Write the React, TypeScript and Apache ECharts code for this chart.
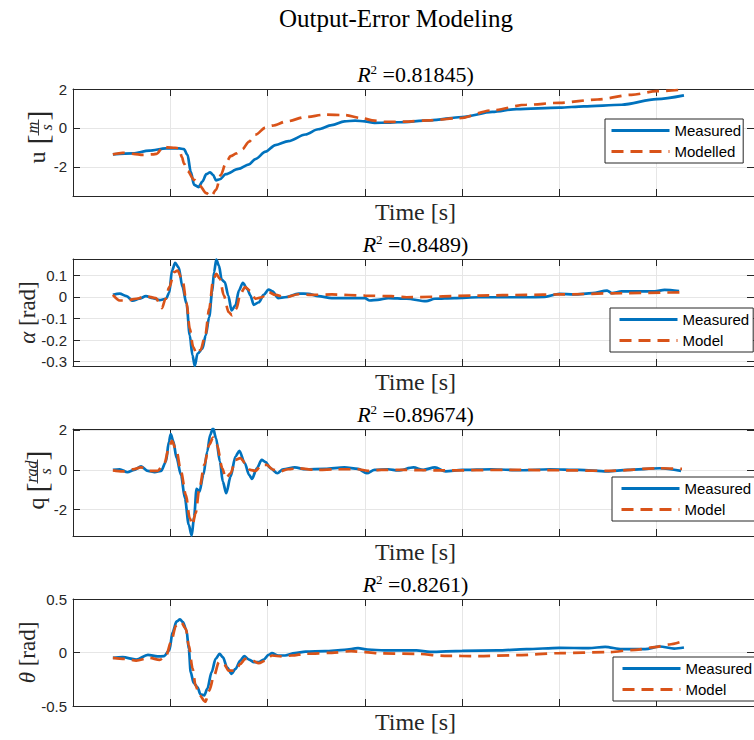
import React, { useEffect, useRef } from "react";
import * as echarts from "echarts";

// ---------- data (time in axis units 0..7, values per panel) ----------
const uMeasured: [number, number][] = [
  [0.41, -1.36], [0.615, -1.31], [0.785, -1.17], [0.956, -1.05], [1.09, -1.05], [1.14, -1.09],
  [1.177, -1.39], [1.21, -2.24], [1.245, -2.93], [1.29, -3.04], [1.33, -2.76], [1.37, -2.38],
  [1.41, -2.28], [1.44, -2.41], [1.47, -2.7], [1.51, -2.64], [1.57, -2.38], [1.7, -2.11],
  [1.81, -1.87], [1.875, -1.6], [1.98, -1.22], [2.08, -0.88], [2.215, -0.68], [2.39, -0.34],
  [2.52, -0.07], [2.66, 0.14], [2.79, 0.34], [2.9, 0.37], [3.0, 0.34], [3.1, 0.26], [3.24, 0.27],
  [3.34, 0.29], [3.67, 0.39], [4.0, 0.56], [4.31, 0.82], [4.56, 0.97], [5.0, 1.04], [5.25, 1.11],
  [5.64, 1.19], [6.0, 1.48], [6.28, 1.67],
];
const uModelled: [number, number][] = [
  [0.41, -1.36], [0.51, -1.28], [0.62, -1.33], [0.72, -1.39], [0.82, -1.36], [0.86, -1.33],
  [0.93, -0.95], [0.97, -1.0], [1.05, -1.02], [1.09, -1.05], [1.12, -1.5], [1.14, -1.82],
  [1.177, -2.21], [1.245, -2.67], [1.3, -2.95], [1.37, -3.35], [1.42, -3.52], [1.47, -3.18],
  [1.52, -2.41], [1.57, -1.82], [1.62, -1.45], [1.68, -1.31], [1.74, -1.1], [1.81, -0.7],
  [1.875, -0.35], [1.98, 0.02], [2.05, 0.12], [2.2, 0.34], [2.39, 0.56], [2.59, 0.68],
  [2.79, 0.66], [2.96, 0.51], [3.1, 0.37], [3.2, 0.31], [3.4, 0.32], [3.67, 0.39], [3.97, 0.5],
  [4.3, 0.9], [4.66, 1.19], [5.0, 1.29], [5.39, 1.46], [5.74, 1.7], [6.0, 1.89], [6.28, 1.97],
];
const alphaMeasured: [number, number][] = [
  [0.41, 0.009], [0.48, 0.015], [0.55, 0.003], [0.615, -0.018], [0.68, -0.009], [0.75, 0.003],
  [0.82, -0.006], [0.89, -0.015], [0.956, -0.009], [0.99, 0.02], [1.017, 0.121], [1.05, 0.157],
  [1.085, 0.137], [1.126, 0.045], [1.167, -0.032], [1.2, -0.178], [1.228, -0.27], [1.252, -0.32],
  [1.28, -0.263], [1.33, -0.24], [1.364, -0.178], [1.4, -0.094], [1.43, 0.022], [1.45, 0.114],
  [1.473, 0.172], [1.5, 0.144], [1.528, 0.08], [1.56, 0.068], [1.596, 0.006], [1.63, -0.063],
  [1.67, -0.04], [1.705, 0.029], [1.746, 0.065], [1.79, 0.037], [1.824, 0.006], [1.858, -0.037],
  [1.91, -0.025], [1.96, 0.009], [2.01, 0.034], [2.05, 0.025], [2.11, -0.006], [2.18, -0.002],
  [2.32, 0.015], [2.42, 0.014], [2.52, 0.003], [2.66, -0.006], [2.86, -0.006], [3.0, -0.006],
  [3.05, -0.017], [3.13, -0.014], [3.24, -0.006], [3.43, -0.009], [3.63, -0.02], [3.72, -0.009],
  [3.92, -0.006], [4.17, -0.002], [4.66, -0.002], [4.85, 0.0], [5.0, 0.014], [5.15, 0.011],
  [5.34, 0.017], [5.49, 0.029], [5.54, 0.017], [5.64, 0.025], [5.98, 0.025], [6.08, 0.032],
  [6.23, 0.026],
];
const alphaModel: [number, number][] = [
  [0.41, 0.009], [0.48, -0.017], [0.55, -0.017], [0.65, -0.009], [0.75, 0.003], [0.85, -0.006],
  [0.915, -0.052], [0.95, -0.01], [0.99, 0.045], [1.04, 0.114], [1.075, 0.121], [1.126, 0.075],
  [1.167, -0.025], [1.2, -0.147], [1.235, -0.232], [1.27, -0.263], [1.31, -0.247], [1.36, -0.178],
  [1.4, -0.055], [1.44, 0.075], [1.473, 0.106], [1.51, 0.083], [1.55, 0.006], [1.6, -0.071],
  [1.636, -0.086], [1.68, -0.055], [1.72, 0.014], [1.77, 0.045], [1.82, 0.029], [1.875, -0.009],
  [1.94, -0.002], [2.01, 0.022], [2.08, 0.009], [2.18, -0.002], [2.32, 0.012], [2.45, 0.009],
  [2.66, 0.011], [3.0, 0.006], [3.27, 0.003], [3.43, -0.002], [4.17, 0.006], [4.66, 0.009],
  [5.0, 0.011], [5.64, 0.017], [6.13, 0.02], [6.26, 0.021],
];
const qMeasured: [number, number][] = [
  [0.41, 0], [0.48, 0.03], [0.56, -0.12], [0.63, 0], [0.7, 0.17], [0.77, -0.05], [0.84, -0.12],
  [0.905, -0.05], [0.956, 0.42], [0.985, 1.4], [1.005, 1.8], [1.03, 1.45], [1.065, 0.59],
  [1.11, -0.25], [1.15, -1.42], [1.19, -2.76], [1.22, -3.3], [1.245, -2.35], [1.27, -0.95],
  [1.3, -1.09], [1.34, -0.25], [1.38, 0.92], [1.41, 1.76], [1.44, 2.09], [1.47, 1.59],
  [1.51, 0.42], [1.54, -0.59], [1.575, -1.17], [1.62, -0.34], [1.67, 0.67], [1.71, 0.95],
  [1.765, 0.34], [1.81, -0.25], [1.84, -0.45], [1.89, 0.08], [1.94, 0.5], [1.98, 0.39],
  [2.03, 0.08], [2.1, -0.17], [2.16, 0.03], [2.28, 0.12], [2.39, 0.03], [2.59, 0.05],
  [2.79, 0.12], [2.93, 0.05], [3.02, -0.17], [3.1, 0], [3.24, 0.03], [3.34, -0.03], [3.5, 0.12],
  [3.6, 0], [3.72, 0.12], [3.83, -0.08], [4.0, 0], [4.3, 0.03], [4.6, -0.02], [4.9, 0.03],
  [5.2, 0], [5.49, -0.08], [5.7, 0], [6.03, 0.08], [6.25, -0.05],
];
const qModel: [number, number][] = [
  [0.41, -0.03], [0.51, -0.08], [0.615, 0.03], [0.7, 0.12], [0.785, -0.05], [0.87, -0.05],
  [0.94, 0.33], [0.985, 1.1], [1.017, 1.46], [1.065, 0.92], [1.11, -0.08], [1.16, -1.26],
  [1.2, -2.43], [1.228, -2.76], [1.26, -2.18], [1.3, -0.92], [1.35, 0.25], [1.4, 1.26],
  [1.44, 1.62], [1.48, 1.26], [1.535, 0.08], [1.57, -0.42], [1.62, -0.17], [1.67, 0.5],
  [1.72, 0.59], [1.77, 0.34], [1.82, 0], [1.875, -0.05], [1.94, 0.25], [1.99, 0.25], [2.06, 0],
  [2.13, -0.08], [2.21, 0.03], [2.32, 0.08], [2.49, 0], [2.73, 0.03], [2.93, 0.03], [3.03, -0.05],
  [3.17, 0], [3.34, 0], [3.8, -0.03], [4.5, 0.0], [5.0, -0.02], [5.5, -0.05], [6.03, 0.08],
  [6.26, 0.05],
];
const thetaMeasured: [number, number][] = [
  [0.41, -0.05], [0.51, -0.044], [0.65, -0.066], [0.77, -0.022], [0.87, -0.037], [0.935, -0.034],
  [0.99, 0.019], [1.024, 0.19], [1.065, 0.29], [1.1, 0.31], [1.13, 0.284], [1.167, 0.206],
  [1.19, 0.034], [1.21, -0.184], [1.24, -0.284], [1.28, -0.325], [1.31, -0.39], [1.35, -0.4],
  [1.38, -0.34], [1.425, -0.184], [1.466, -0.06], [1.507, -0.012], [1.54, -0.044], [1.585, -0.14],
  [1.63, -0.2], [1.67, -0.153], [1.72, -0.075], [1.76, -0.034], [1.81, -0.066], [1.86, -0.09],
  [1.91, -0.09], [1.96, -0.066], [2.01, -0.022], [2.045, -0.006], [2.11, -0.028], [2.18, -0.028],
  [2.28, -0.006], [2.39, 0.009], [2.59, 0.0125], [2.79, 0.025], [2.93, 0.04], [3.03, 0.028],
  [3.2, 0.019], [3.34, 0.019], [3.53, 0.019], [3.67, 0.006], [4.0, 0.016], [4.36, 0.019],
  [4.66, 0.031], [5.0, 0.044], [5.3, 0.04], [5.47, 0.053], [5.64, 0.031], [5.88, 0.031],
  [6.03, 0.056], [6.18, 0.037], [6.28, 0.047],
];
const thetaModel: [number, number][] = [
  [0.41, -0.05], [0.53, -0.06], [0.65, -0.075], [0.785, -0.05], [0.89, -0.069], [0.956, -0.034],
  [1.007, 0.097], [1.058, 0.25], [1.11, 0.284], [1.16, 0.222], [1.19, 0.066], [1.23, -0.153],
  [1.26, -0.31], [1.3, -0.4], [1.36, -0.46], [1.4, -0.356], [1.45, -0.216], [1.5, -0.09],
  [1.55, -0.106], [1.6, -0.17], [1.67, -0.17], [1.72, -0.106], [1.77, -0.06], [1.84, -0.075],
  [1.91, -0.1], [1.98, -0.075], [2.045, -0.028], [2.15, -0.037], [2.25, -0.028], [2.39, -0.012],
  [2.66, -0.003], [2.86, 0.0125], [3.0, 0.003], [3.18, -0.009], [3.53, -0.0125], [3.82, -0.031],
  [4.17, -0.034], [4.56, -0.025], [5.0, -0.006], [5.49, 0.003], [5.78, 0.025], [5.98, 0.05],
  [6.13, 0.075], [6.26, 0.103],
];

const mainTitle = "Output-Error Modeling";
const r2Values = ["0.81845", "0.8489", "0.89674", "0.8261"];
const measuredName = "Measured";
const modelNames = ["Modelled", "Model", "Model", "Model"];
const xLabel = "Time [s]";
const yMins = [-3.5, -0.32, -3.32, -0.5];
const yMaxs = [2, 0.175, 2.05, 0.5];
const ySplits = [3, 5, 3, 2];
const xMin = 0;
const xMax = 7;
const xStep = 1;

const measuredData = [uMeasured, alphaMeasured, qMeasured, thetaMeasured];
const modelData = [uModelled, alphaModel, qModel, thetaModel];

// ---------- layout / style ----------
const SERIF = '"Liberation Serif", "DejaVu Serif", serif';
const SANS = '"Liberation Sans", Arial, Helvetica, sans-serif';
const BLUE = "#0072BD";
const ORANGE = "#D95319";
const AXIS = "#262626";
const GRIDC = "#e6e6e6";
const LEFT = 73;
const WIDTH = 685;
const TOPS = [89, 259, 429, 599];
const HEIGHT = 107;
const LEG_POS = [
  [605, 119],
  [610, 308],
  [612, 477],
  [613, 657],
];
const PLOT_CX = LEFT + WIDTH / 2;

function buildOption() {
  const grid: any[] = [];
  const xAxis: any[] = [];
  const yAxis: any[] = [];
  const series: any[] = [];
  const legend: any[] = [];
  const graphic: any[] = [];

  for (let i = 0; i < 4; i++) {
    grid.push({ left: LEFT, top: TOPS[i], width: WIDTH, height: HEIGHT, show: false });
    const commonX = {
      type: "value",
      gridIndex: i,
      min: xMin,
      max: xMax,
      interval: xStep,
      axisLine: { show: true, onZero: false, lineStyle: { color: AXIS, width: 1 } },
      axisTick: { show: true, inside: true, length: 7, lineStyle: { color: AXIS } },
      axisLabel: { show: false },
    };
    xAxis.push({ ...commonX, position: "bottom", splitLine: { show: true, lineStyle: { color: GRIDC, width: 1 } } });
    xAxis.push({ ...commonX, position: "top", splitLine: { show: false } });
    const commonY = {
      type: "value",
      gridIndex: i,
      min: yMins[i],
      max: yMaxs[i],
      splitNumber: ySplits[i],
      axisLine: { show: true, onZero: false, lineStyle: { color: AXIS, width: 1 } },
      axisTick: { show: true, inside: true, length: 7, lineStyle: { color: AXIS } },
    };
    const hideExtMin = i !== 3;
    const hideExtMax = i === 1 || i === 2;
    yAxis.push({
      ...commonY,
      position: "left",
      splitLine: { show: true, lineStyle: { color: GRIDC, width: 1 } },
      axisLabel: {
        show: true,
        color: AXIS,
        fontSize: 15,
        fontFamily: SANS,
        margin: 6,
        showMinLabel: !hideExtMin,
        showMaxLabel: !hideExtMax,
        formatter: (v: number) => String(Math.round(v * 1000) / 1000),
      },
    });
    yAxis.push({ ...commonY, position: "right", splitLine: { show: false }, axisLabel: { show: false } });

    series.push({
      name: measuredName,
      type: "line",
      xAxisIndex: 2 * i,
      yAxisIndex: 2 * i,
      data: measuredData[i],
      showSymbol: false,
      symbol: "none",
      smooth: 0.3,
      smoothMonotone: "x",
      lineStyle: { color: BLUE, width: 2.7 },
      itemStyle: { color: BLUE },
      z: 3,
    });
    series.push({
      name: modelNames[i],
      type: "line",
      xAxisIndex: 2 * i,
      yAxisIndex: 2 * i,
      data: modelData[i],
      showSymbol: false,
      symbol: "none",
      smooth: 0.3,
      smoothMonotone: "x",
      lineStyle: { color: ORANGE, width: 2.7, type: [12, 7] },
      itemStyle: { color: ORANGE },
      z: 4,
    });

    legend.push({
      show: true,
      orient: "vertical",
      left: LEG_POS[i][0],
      top: LEG_POS[i][1],
      data: [measuredName, modelNames[i]],
      selectedMode: false,
      itemWidth: 58,
      itemHeight: 16,
      itemGap: 6,
      padding: i === 0 ? [4, 2, 4, 5] : [4, 4, 4, 8],
      borderColor: AXIS,
      borderWidth: 1,
      borderRadius: 0,
      backgroundColor: "#fff",
      itemStyle: { opacity: 0 },
      lineStyle: { width: 3 },
      textStyle: { fontSize: 15, fontFamily: SANS, color: "#000" },
      z: 10,
    });

    // subplot title R^2
    graphic.push({
      type: "text",
      x: PLOT_CX,
      y: TOPS[i] - 15,
      style: {
        text: `{r|R}{s|2}{n| =${r2Values[i]})}`,
        align: "center",
        verticalAlign: "middle",
        fill: "#000",
        rich: {
          r: { fontSize: 22, fontFamily: SERIF, fontStyle: "italic", fill: "#000" },
          s: { fontSize: 13, fontFamily: SERIF, verticalAlign: "top", fill: "#000" },
          n: { fontSize: 22, fontFamily: SERIF, fill: "#000" },
        },
      },
    });
    // x label
    graphic.push({
      type: "text",
      x: PLOT_CX,
      y: TOPS[i] + HEIGHT + 16,
      style: { text: xLabel, align: "center", verticalAlign: "middle", fontSize: 24, fontFamily: SERIF, fill: AXIS },
    });
  }

  // main title
  graphic.push({
    type: "text",
    x: 396,
    y: 18,
    style: { text: mainTitle, align: "center", verticalAlign: "middle", fontSize: 25, fontFamily: SERIF, fill: "#000" },
  });

  // y labels
  const fracLabel = (cx: number, cy: number, letter: string, letterX: number, num: string, den: string, fracX: number, halfW: number) => ({
    type: "group",
    x: cx,
    y: cy,
    rotation: Math.PI / 2,
    children: [
      { type: "text", x: letterX, y: 0, style: { text: letter, fontSize: 24, fontFamily: SERIF, align: "center", verticalAlign: "middle", fill: AXIS } },
      { type: "text", x: fracX - halfW - 4, y: 0, style: { text: "[", fontSize: 30, fontFamily: SERIF, align: "center", verticalAlign: "middle", fill: AXIS } },
      { type: "text", x: fracX + halfW + 4, y: 0, style: { text: "]", fontSize: 30, fontFamily: SERIF, align: "center", verticalAlign: "middle", fill: AXIS } },
      { type: "line", shape: { x1: fracX - halfW, y1: 1.5, x2: fracX + halfW, y2: 1.5 }, style: { stroke: AXIS, lineWidth: 0.9 } },
      { type: "text", x: fracX, y: -5, style: { text: num, fontSize: 16, fontStyle: "italic", fontFamily: SERIF, align: "center", verticalAlign: "middle", fill: AXIS } },
      { type: "text", x: fracX, y: 9, style: { text: den, fontSize: 16, fontStyle: "italic", fontFamily: SERIF, align: "center", verticalAlign: "middle", fill: AXIS } },
    ],
  });
  graphic.push(fracLabel(37, TOPS[0] + HEIGHT / 2, "u", -15, "m", "s", 15, 8));
  graphic.push(fracLabel(36, TOPS[2] + HEIGHT / 2, "q", -21, "rad", "s", 11, 12));
  const plainLabel = (cx: number, cy: number, greek: string) => ({
    type: "text",
    x: cx,
    y: cy,
    rotation: Math.PI / 2,
    style: {
      text: `{g|${greek}}{t| [rad]}`,
      align: "center",
      verticalAlign: "middle",
      fill: AXIS,
      rich: {
        g: { fontSize: 23, fontFamily: SERIF, fontStyle: "italic", fill: AXIS },
        t: { fontSize: 23, fontFamily: SERIF, fill: AXIS },
      },
    },
  });
  graphic.push(plainLabel(27, TOPS[1] + HEIGHT / 2, "α"));
  graphic.push(plainLabel(27, TOPS[3] + HEIGHT / 2, "θ"));

  return {
    animation: false,
    backgroundColor: "#fff",
    grid,
    xAxis,
    yAxis,
    series,
    legend,
    graphic,
  };
}

export default function App() {
  const ref = useRef<HTMLDivElement>(null);
  useEffect(() => {
    if (!ref.current) return;
    const chart = echarts.init(ref.current, null, { renderer: "svg" });
    chart.setOption(buildOption() as any);
    return () => chart.dispose();
  }, []);
  return <div ref={ref} style={{ position: "absolute", left: 0, top: 0, width: 754, height: 740 }} />;
}
